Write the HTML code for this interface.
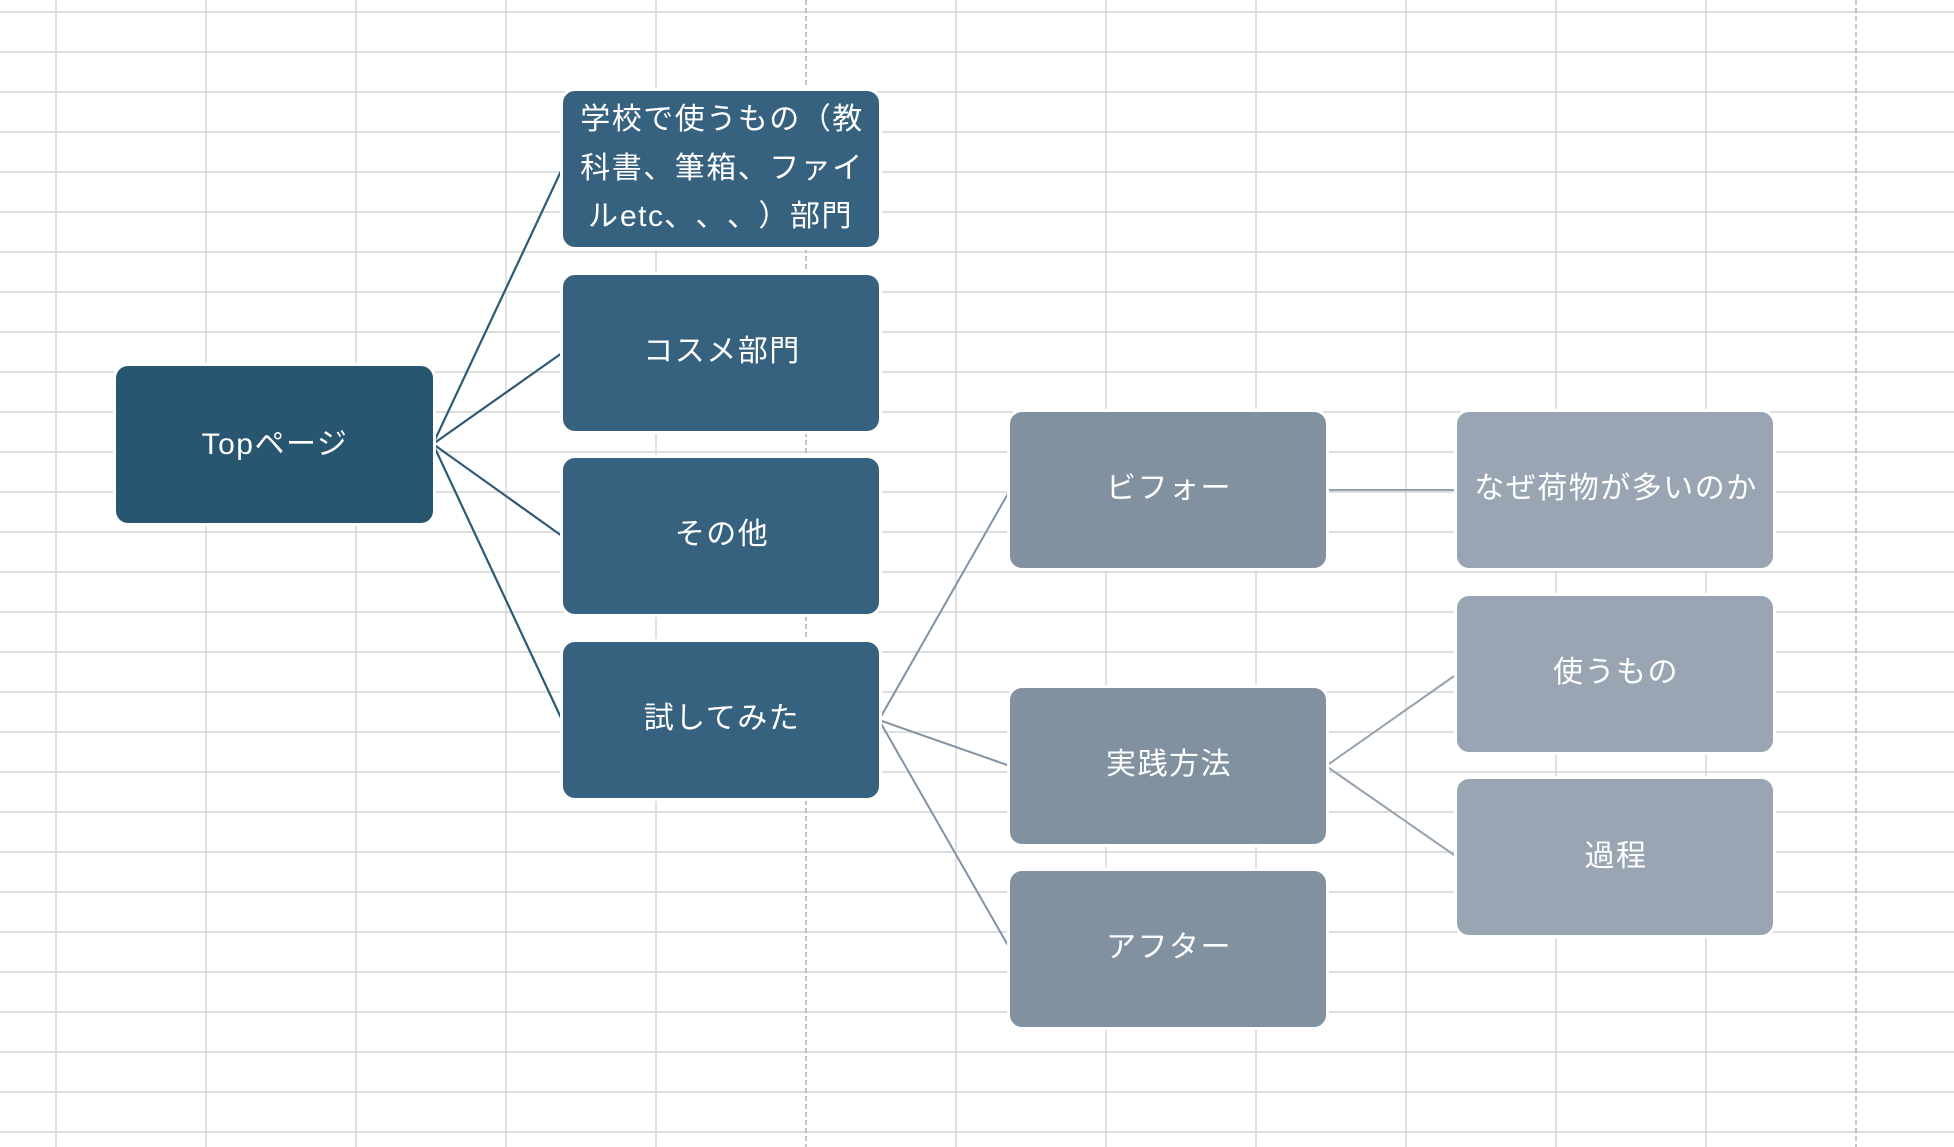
<!DOCTYPE html>
<html>
<head>
<meta charset="utf-8">
<style>
  html,body{margin:0;padding:0;background:#fff;}
  svg{display:block;}
  .t{font-family:"Liberation Sans","Noto Sans CJK JP",sans-serif;font-size:30px;fill:#fff;letter-spacing:1.5px;}
  .t2{font-family:"Liberation Sans","Noto Sans CJK JP",sans-serif;font-size:30px;fill:#fff;}
</style>
</head>
<body>
<svg width="1954" height="1147" viewBox="0 0 1954 1147" xmlns="http://www.w3.org/2000/svg">
  <rect x="0" y="0" width="1954" height="1147" fill="#fff"/>
  <!-- horizontal grid -->
  <g stroke="#d4d4d4" stroke-width="1.4">
    <line x1="0" y1="12" x2="1954" y2="12"/>
    <line x1="0" y1="52" x2="1954" y2="52"/>
    <line x1="0" y1="92" x2="1954" y2="92"/>
    <line x1="0" y1="132" x2="1954" y2="132"/>
    <line x1="0" y1="172" x2="1954" y2="172"/>
    <line x1="0" y1="212" x2="1954" y2="212"/>
    <line x1="0" y1="252" x2="1954" y2="252"/>
    <line x1="0" y1="292" x2="1954" y2="292"/>
    <line x1="0" y1="332" x2="1954" y2="332"/>
    <line x1="0" y1="372" x2="1954" y2="372"/>
    <line x1="0" y1="412" x2="1954" y2="412"/>
    <line x1="0" y1="452" x2="1954" y2="452"/>
    <line x1="0" y1="492" x2="1954" y2="492"/>
    <line x1="0" y1="532" x2="1954" y2="532"/>
    <line x1="0" y1="572" x2="1954" y2="572"/>
    <line x1="0" y1="612" x2="1954" y2="612"/>
    <line x1="0" y1="652" x2="1954" y2="652"/>
    <line x1="0" y1="692" x2="1954" y2="692"/>
    <line x1="0" y1="732" x2="1954" y2="732"/>
    <line x1="0" y1="772" x2="1954" y2="772"/>
    <line x1="0" y1="812" x2="1954" y2="812"/>
    <line x1="0" y1="852" x2="1954" y2="852"/>
    <line x1="0" y1="892" x2="1954" y2="892"/>
    <line x1="0" y1="932" x2="1954" y2="932"/>
    <line x1="0" y1="972" x2="1954" y2="972"/>
    <line x1="0" y1="1012" x2="1954" y2="1012"/>
    <line x1="0" y1="1052" x2="1954" y2="1052"/>
    <line x1="0" y1="1092" x2="1954" y2="1092"/>
    <line x1="0" y1="1132" x2="1954" y2="1132"/>
  </g>
  <!-- vertical grid -->
  <g stroke="#d4d4d4" stroke-width="1.4">
    <line x1="56" y1="0" x2="56" y2="1147"/>
    <line x1="206" y1="0" x2="206" y2="1147"/>
    <line x1="356" y1="0" x2="356" y2="1147"/>
    <line x1="506" y1="0" x2="506" y2="1147"/>
    <line x1="656" y1="0" x2="656" y2="1147"/>
    <line x1="956" y1="0" x2="956" y2="1147"/>
    <line x1="1106" y1="0" x2="1106" y2="1147"/>
    <line x1="1256" y1="0" x2="1256" y2="1147"/>
    <line x1="1406" y1="0" x2="1406" y2="1147"/>
    <line x1="1556" y1="0" x2="1556" y2="1147"/>
    <line x1="1706" y1="0" x2="1706" y2="1147"/>
  </g>
  <!-- page-break dashed lines -->
  <g stroke="#a6a6a6" stroke-width="1.3" stroke-dasharray="5 3">
    <line x1="806" y1="0" x2="806" y2="1147"/>
    <line x1="1856" y1="0" x2="1856" y2="1147"/>
  </g>

  <!-- connectors -->
  <g stroke="#2d5a77" stroke-width="2.2" fill="none">
    <line x1="433" y1="444" x2="562" y2="169"/>
    <line x1="433" y1="444" x2="562" y2="353"/>
    <line x1="433" y1="444" x2="562" y2="536"/>
    <line x1="433" y1="444" x2="562" y2="720"/>
  </g>
  <g stroke="#8292a2" stroke-width="2" fill="none">
    <line x1="879" y1="720" x2="1010" y2="490"/>
    <line x1="879" y1="720" x2="1010" y2="766"/>
    <line x1="879" y1="720" x2="1010" y2="949"/>
  </g>
  <g stroke="#96a2b0" stroke-width="2" fill="none">
    <line x1="1326" y1="766" x2="1457" y2="674"/>
    <line x1="1326" y1="766" x2="1457" y2="857"/>
    <line x1="1326" y1="490" x2="1457" y2="490"/>
  </g>

  <!-- white halos around boxes -->
  <g fill="#fff">
    <rect x="113" y="363" width="323" height="163" rx="15"/>
    <rect x="560" y="88" width="322" height="162" rx="15"/>
    <rect x="560" y="272" width="322" height="162" rx="15"/>
    <rect x="560" y="455" width="322" height="162" rx="15"/>
    <rect x="560" y="639" width="322" height="162" rx="15"/>
    <rect x="1007" y="409" width="322" height="162" rx="15"/>
    <rect x="1007" y="685" width="322" height="162" rx="15"/>
    <rect x="1007" y="868" width="322" height="162" rx="15"/>
    <rect x="1454" y="409" width="322" height="162" rx="15"/>
    <rect x="1454" y="593" width="322" height="162" rx="15"/>
    <rect x="1454" y="776" width="322" height="162" rx="15"/>
  </g>

  <!-- boxes -->
  <rect x="116" y="366" width="317" height="157" rx="12" fill="#285671"/>
  <g fill="#36627f">
    <rect x="563" y="91" width="316" height="156" rx="12"/>
    <rect x="563" y="275" width="316" height="156" rx="12"/>
    <rect x="563" y="458" width="316" height="156" rx="12"/>
    <rect x="563" y="642" width="316" height="156" rx="12"/>
  </g>
  <g fill="#8191a0">
    <rect x="1010" y="412" width="316" height="156" rx="12"/>
    <rect x="1010" y="688" width="316" height="156" rx="12"/>
    <rect x="1010" y="871" width="316" height="156" rx="12"/>
  </g>
  <g fill="#99a5b3">
    <rect x="1457" y="412" width="316" height="156" rx="12"/>
    <rect x="1457" y="596" width="316" height="156" rx="12"/>
    <rect x="1457" y="779" width="316" height="156" rx="12"/>
  </g>

  <!-- labels -->
  <g class="t" text-anchor="middle">
    <text x="275" y="454">Topページ</text>
    <text x="722" y="129">学校で使うもの（教</text>
    <text x="722" y="178">科書、筆箱、ファイ</text>
    <text x="722" y="361">コスメ部門</text>
    <text x="722" y="544">その他</text>
    <text x="722" y="728">試してみた</text>
    <text x="1169" y="498">ビフォー</text>
    <text x="1169" y="774">実践方法</text>
    <text x="1169" y="957">アフター</text>
    <text x="1616" y="498">なぜ荷物が多いのか</text>
    <text x="1616" y="682">使うもの</text>
    <text x="1616" y="866">過程</text>
  </g>
  <text class="t2" y="226"><tspan x="588">ル</tspan><tspan x="620" letter-spacing="1.5">etc</tspan><tspan x="664">、</tspan><tspan x="695.5">、</tspan><tspan x="727">、</tspan><tspan x="758.5">）</tspan><tspan x="790">部</tspan><tspan x="821.5">門</tspan></text>
</svg>
</body>
</html>
